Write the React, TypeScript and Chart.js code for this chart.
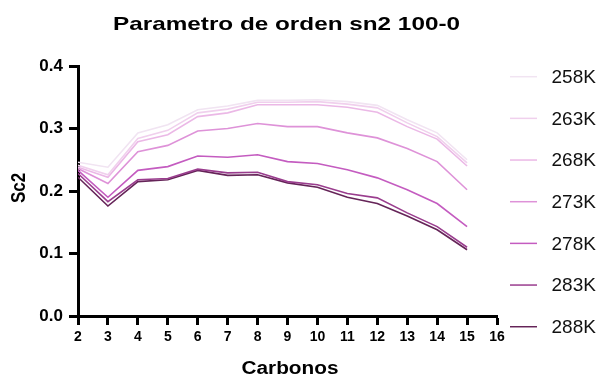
import React, { useEffect, useRef } from "react";
import { Chart, registerables } from "chart.js";

Chart.register(...registerables);

const titleText = "Parametro de orden sn2 100-0";
const xTitle = "Carbonos";
const yTitle = "Sc2";

const carbons = [2, 3, 4, 5, 6, 7, 8, 9, 10, 11, 12, 13, 14, 15];
const seriesLabels = ["258K", "263K", "268K", "273K", "278K", "283K", "288K"];
const s258 = [0.246, 0.238, 0.293, 0.306, 0.330, 0.336, 0.345, 0.345, 0.346, 0.343, 0.337, 0.314, 0.293, 0.250];
const s263 = [0.241, 0.226, 0.284, 0.297, 0.325, 0.331, 0.342, 0.342, 0.343, 0.339, 0.333, 0.309, 0.287, 0.245];
const s268 = [0.238, 0.222, 0.279, 0.290, 0.319, 0.325, 0.338, 0.338, 0.338, 0.334, 0.326, 0.303, 0.283, 0.240];
const s273 = [0.236, 0.212, 0.263, 0.273, 0.296, 0.300, 0.308, 0.303, 0.303, 0.293, 0.285, 0.268, 0.247, 0.202];
const s278 = [0.233, 0.190, 0.233, 0.239, 0.256, 0.254, 0.258, 0.247, 0.244, 0.234, 0.221, 0.202, 0.180, 0.143];
const s283 = [0.228, 0.183, 0.218, 0.220, 0.235, 0.229, 0.230, 0.215, 0.210, 0.196, 0.189, 0.165, 0.143, 0.110];
const s288 = [0.222, 0.176, 0.215, 0.218, 0.233, 0.225, 0.226, 0.213, 0.206, 0.190, 0.180, 0.160, 0.138, 0.106];
const seriesValues = [s258, s263, s268, s273, s278, s283, s288];
const seriesColors = ["#f1e4f2", "#f0d0ed", "#ebb8e6", "#de92d8", "#c45cc0", "#9a3d8e", "#652458"];

const xMin = 2;
const xMax = 16;
const yMin = 0;
const yMax = 0.4;

const FONT = "'Liberation Sans', Arial, Helvetica, sans-serif";

function drawStretched(ctx: any, text: string, cx: number, cy: number, font: string, targetWidth: number) {
  ctx.save();
  ctx.font = font;
  ctx.textAlign = "center";
  ctx.textBaseline = "middle";
  const w = ctx.measureText(text).width;
  const sx = targetWidth / w;
  ctx.translate(cx, cy);
  ctx.scale(sx, 1);
  ctx.fillText(text, 0, 0);
  ctx.restore();
}

const overlayPlugin = {
  id: "overlay",
  afterDraw(chart: any) {
    const { ctx, chartArea } = chart;
    ctx.save();
    ctx.fillStyle = "#000";
    // title
    drawStretched(ctx, titleText, (chartArea.left + chartArea.right) / 2 - 1, 24.5, `bold 19px ${FONT}`, 347);
    // x axis title
    drawStretched(ctx, xTitle, 290, 369, `bold 18px ${FONT}`, 97);
    // y axis title
    ctx.save();
    ctx.font = `bold 17px ${FONT}`;
    ctx.textAlign = "center";
    ctx.textBaseline = "middle";
    ctx.translate(19.5, 188);
    ctx.rotate(-Math.PI / 2);
    ctx.scale(1, 1.2);
    ctx.fillText(yTitle, 0, 0);
    ctx.restore();
    // legend
    ctx.font = `19px ${FONT}`;
    ctx.textAlign = "left";
    ctx.textBaseline = "middle";
    chart.data.datasets.forEach((ds: any, i: number) => {
      const y = 76.7 + i * 41.67;
      ctx.strokeStyle = ds.borderColor;
      ctx.lineWidth = 1.5;
      ctx.beginPath();
      ctx.moveTo(510, y);
      ctx.lineTo(537, y);
      ctx.stroke();
      ctx.fillStyle = "#111";
      ctx.fillText(ds.label, 551.5, y + 1);
    });
    ctx.restore();
  },
};

export default function App() {
  const ref = useRef<HTMLCanvasElement>(null);
  useEffect(() => {
    if (!ref.current) return;
    Chart.defaults.font.family = FONT;
    const chart = new Chart(ref.current, {
      type: "line",
      data: {
        datasets: seriesLabels.map((label, i) => ({
          label,
          data: carbons.map((c, j) => ({ x: c, y: seriesValues[i][j] })),
          borderColor: seriesColors[i],
          backgroundColor: seriesColors[i],
          borderWidth: 1.6,
          pointRadius: 0,
          tension: 0,
        })),
      },
      options: {
        animation: false,
        responsive: false,
        layout: { padding: { top: 66, right: 105, left: 0, bottom: 0 } },
        plugins: {
          legend: { display: false },
          title: { display: false },
          tooltip: { enabled: false },
        },
        scales: {
          x: {
            type: "linear",
            min: xMin,
            max: xMax,
            afterFit: (s: any) => {
              s.height = 63;
            },
            ticks: {
              stepSize: 1,
              color: "#000",
              font: { weight: "bold", size: 14 },
              padding: 4,
              maxRotation: 0,
              autoSkip: false,
            },
            grid: {
              display: true,
              drawOnChartArea: false,
              drawTicks: true,
              tickLength: 9,
              tickWidth: 3,
              tickColor: "#000",
            },
            border: { display: true, color: "#000", width: 3 },
            title: { display: false },
          },
          y: {
            type: "linear",
            min: yMin,
            max: yMax,
            afterFit: (s: any) => {
              s.width = 78;
            },
            ticks: {
              stepSize: 0.1,
              color: "#000",
              font: { weight: "bold", size: 17 },
              padding: 6,
              callback: (v: any) => Number(v).toFixed(1),
            },
            grid: {
              display: true,
              drawOnChartArea: false,
              drawTicks: true,
              tickLength: 9,
              tickWidth: 3,
              tickColor: "#000",
            },
            border: { display: true, color: "#000", width: 3 },
            title: { display: false },
          },
        },
      },
      plugins: [overlayPlugin],
    } as any);
    return () => chart.destroy();
  }, []);
  return (
    <div style={{ position: "absolute", left: 0, top: 0, width: 602, height: 379, background: "#fff" }}>
      <canvas ref={ref} width={602} height={379} style={{ display: "block" }} />
    </div>
  );
}
